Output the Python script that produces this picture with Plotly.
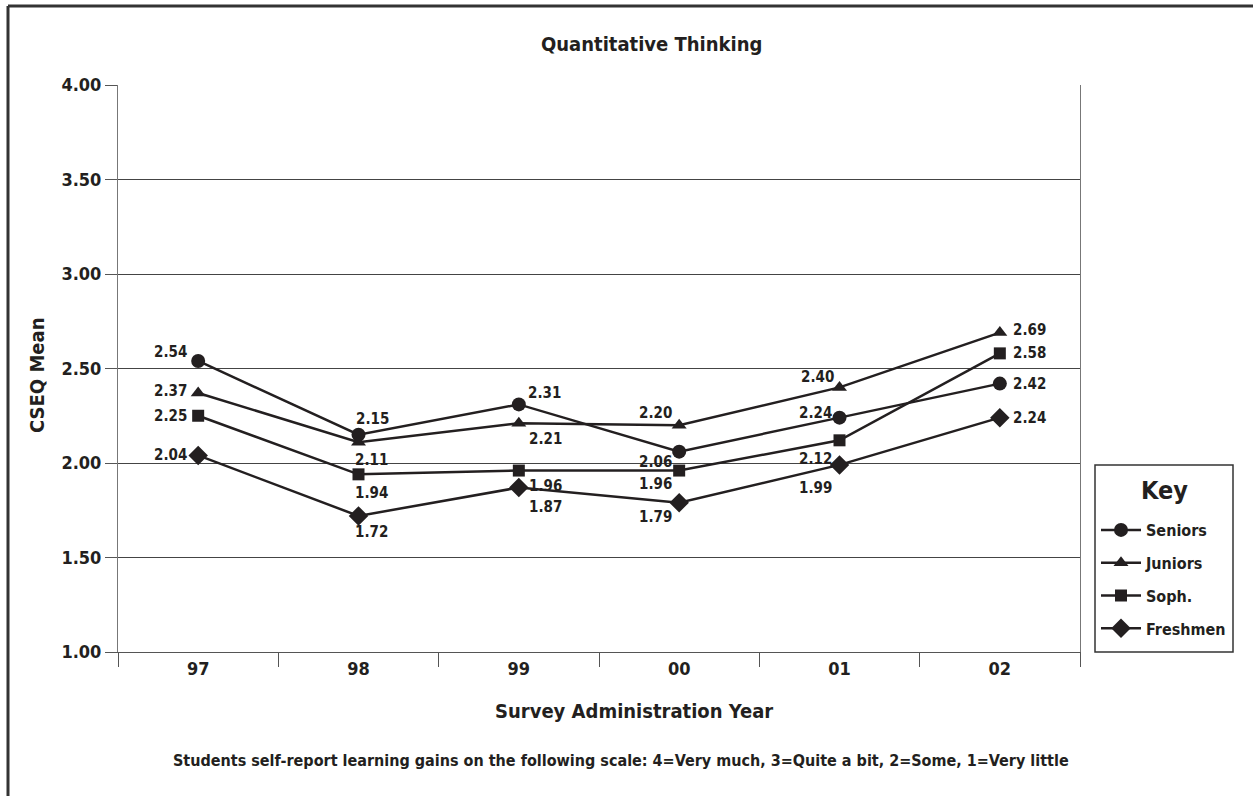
import plotly.graph_objects as go

years = ["97", "98", "99", "00", "01", "02"]
series_names = ["Seniors", "Juniors", "Soph.", "Freshmen"]
seniors = [2.54, 2.15, 2.31, 2.06, 2.24, 2.42]
juniors = [2.37, 2.11, 2.21, 2.20, 2.40, 2.69]
soph = [2.25, 1.94, 1.96, 1.96, 2.12, 2.58]
freshmen = [2.04, 1.72, 1.87, 1.79, 1.99, 2.24]
y_ticks = [1.0, 1.5, 2.0, 2.5, 3.0, 3.5, 4.0]

# styling: marker symbols and label offsets (pixels, dx, dy-down)
symbols = ["circle", "triangle-up", "square", "diamond"]
msizes = [14, 13, 12, 15]
label_offsets = [
    [(-28, -9), (14, -16), (26, -11), (-24, 10), (-24, -5), (30, 0)],
    [(-28, -2), (13, 18), (27, 16), (-24, -12), (-22, -10), (30, -3)],
    [(-28, 0), (13, 19), (27, 15), (-24, 13), (-24, 19), (30, 0)],
    [(-28, 0), (13, 16), (27, 19), (-24, 14), (-24, 23), (30, 0)],
]

FONT = "DejaVu Sans Condensed, Roboto, sans-serif"
INK = "#231f20"

all_series = [seniors, juniors, soph, freshmen]

fig = go.Figure()
for name, vals, sym, ms in zip(series_names, all_series, symbols, msizes):
    fig.add_trace(go.Scatter(
        x=years, y=vals, name=f"<b>{name}</b>", mode="lines+markers",
        legendgroup=name,
        line=dict(color=INK, width=2.5),
        marker=dict(symbol=sym, size=ms, color=INK),
        hoverinfo="skip",
    ))

annotations = []
for vals, offs in zip(all_series, label_offsets):
    for i, (v, (dx, dy)) in enumerate(zip(vals, offs)):
        annotations.append(dict(
            x=i, y=v, xref="x", yref="y", text=f"<b>{v:.2f}</b>",
            showarrow=False, xshift=dx, yshift=-dy,
            xanchor="center", yanchor="middle",
            font=dict(family=FONT, size=15, color=INK),
        ))

L, R, T, B = 118, 1080, 85, 652
W, H = 1253, 796
def px_x(px):
    return (px - L) / (R - L)
def px_y(py):
    return (B - py) / (B - T)

def paper_text(text, x, y, size, angle=0):
    return dict(text=text, x=px_x(x), y=px_y(y), xref="paper", yref="paper",
                xanchor="center", yanchor="middle", textangle=angle,
                showarrow=False, font=dict(family=FONT, size=size, color=INK))

annotations += [
    paper_text("<b>CSEQ Mean</b>", 37, 376, 20, -90),
    paper_text("<b>Survey Administration Year</b>", 634, 711, 20),
    paper_text("<b>Students self-report learning gains on the following scale: 4=Very much, 3=Quite a bit, 2=Some, 1=Very little</b>",
               621, 760, 16),
    paper_text("<b>Quantitative Thinking</b>", 651, 44, 20),
    paper_text("<b>Key</b>", 1164, 490, 25),
]

shapes = [
    dict(type="line", xref="paper", yref="paper", x0=px_x(8), x1=px_x(1260), y0=px_y(6), y1=px_y(6),
         line=dict(color="#333333", width=3)),
    dict(type="line", xref="paper", yref="paper", x0=px_x(8), x1=px_x(8), y0=px_y(6), y1=px_y(800),
         line=dict(color="#333333", width=3)),
    dict(type="rect", xref="paper", yref="paper", x0=px_x(1095), x1=px_x(1233), y0=px_y(465), y1=px_y(652),
         line=dict(color="#333333", width=1.5), fillcolor="rgba(0,0,0,0)"),
]

fig.update_layout(
    width=W, height=H,
    margin=dict(l=L, r=W - R, t=T, b=H - B, autoexpand=False),
    paper_bgcolor="white", plot_bgcolor="white",
    font=dict(family=FONT, color=INK),
    showlegend=True,
    legend=dict(
        x=px_x(1096), y=px_y(513), xanchor="left", yanchor="top",
        borderwidth=0, bgcolor="rgba(0,0,0,0)",
        font=dict(family=FONT, size=16, color=INK),
        itemwidth=40, tracegroupgap=9,
    ),
    annotations=annotations,
    shapes=shapes,
    xaxis=dict(
        type="category", range=[-0.5, 5.5], tickson="boundaries",
        ticks="outside", ticklen=14, tickcolor="#555555", tickwidth=1,
        showgrid=False, showline=True, linecolor="#555555", linewidth=1,
        tickfont=dict(family=FONT, size=18, color=INK),
        tickprefix="<b>", ticksuffix="</b>",
    ),
    yaxis=dict(
        range=[1, 4], tickvals=y_ticks, ticktext=[f"<b>{t:.2f}</b>" for t in y_ticks],
        ticks="outside", ticklen=12, tickcolor="#555555", tickwidth=1,
        showgrid=True, gridcolor="#444444", gridwidth=1,
        showline=True, linecolor="#777777", linewidth=1, mirror=True,
        zeroline=False,
        tickfont=dict(family=FONT, size=18, color=INK),
    ),
)

fig.write_html("out.html", config={"displayModeBar": False},
               post_script="document.body.style.margin='0';")
